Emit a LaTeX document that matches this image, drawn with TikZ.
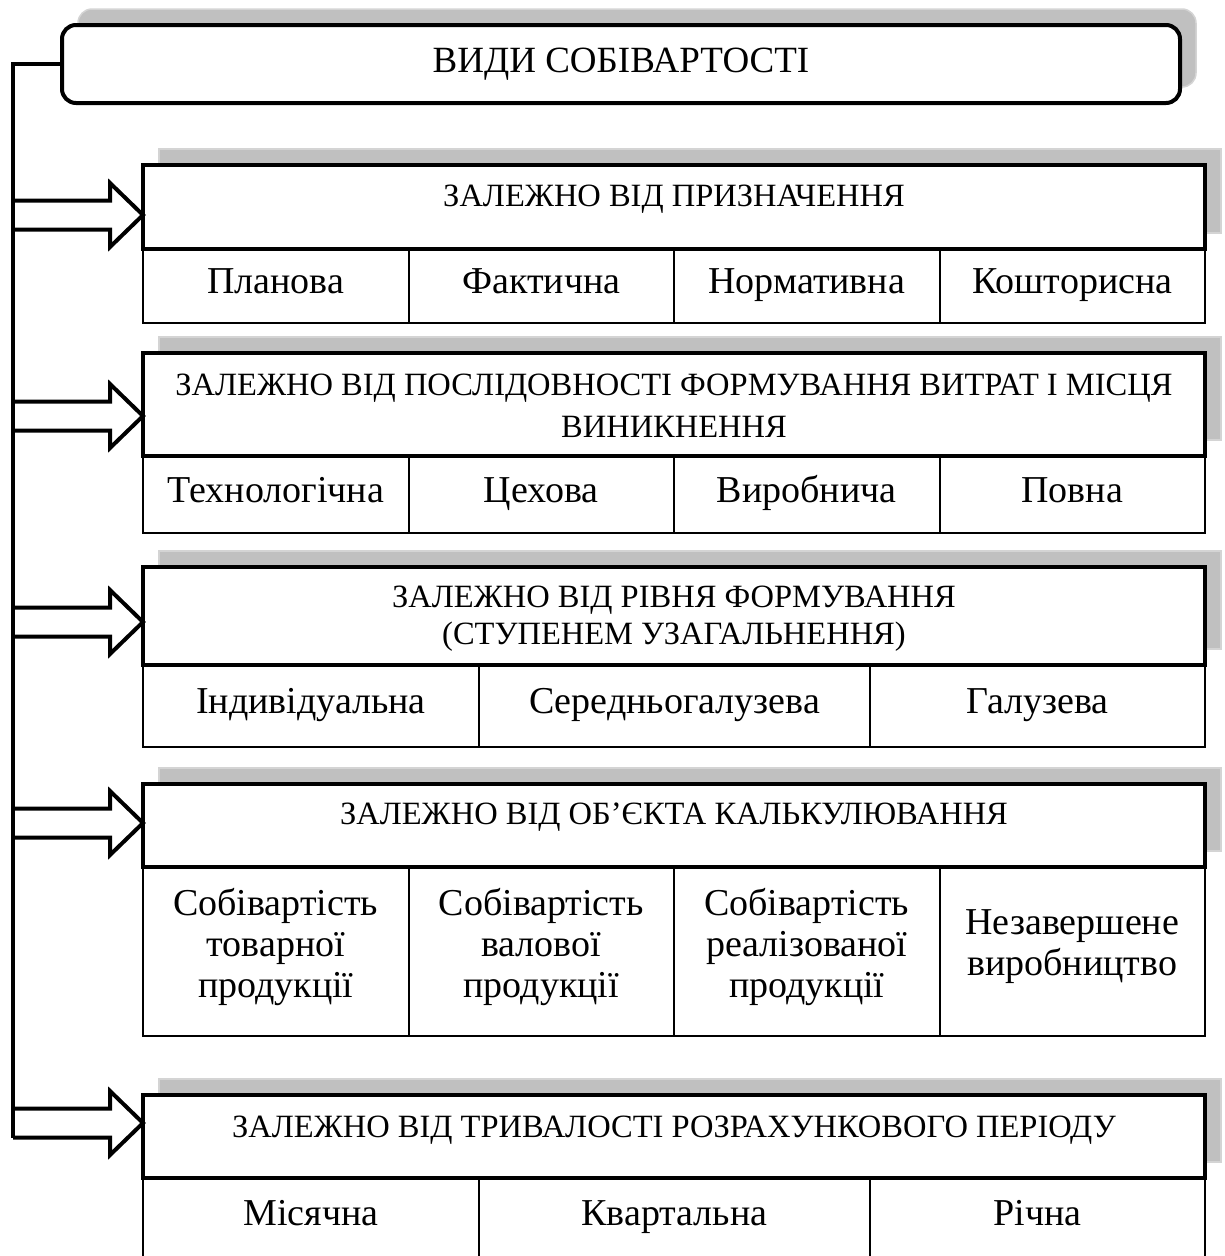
\documentclass[tikz,border=0pt]{standalone}
\usepackage{fontspec}
\setmainfont{Liberation Serif}
\usetikzlibrary{positioning,calc,shadows}

\definecolor{shadowGray}{RGB}{192,192,192}
\definecolor{shadowEdge}{RGB}{212,212,212}

\newcommand{\titleFont}{\fontsize{37}{42}\selectfont}
\newcommand{\headFont}{\fontsize{32.5}{42}\selectfont}
\newcommand{\cellFont}{\fontsize{38}{41}\selectfont}

\tikzset{
    cardShadow/.style = {drop shadow = {shadow xshift = 16pt, shadow yshift = 16pt, fill = shadowGray, draw = shadowEdge, line width = 1.5pt, opacity = 1}},
    headBox/.style    = {draw, line width = 4pt, fill = white, minimum width = 1062pt, inner sep = 0pt, outer sep = 0pt, anchor = north west, cardShadow},
    headText/.style   = {anchor = base, align = center, font = \headFont, inner sep = 0pt},
    cell/.style       = {draw, line width = 2pt, inner sep = 0pt, outer sep = 0pt, anchor = north west, align = center, font = \cellFont},
    oneLine/.style    = {text height = 25pt, text depth = 10pt},
    trunk/.style      = {line width = 4pt},
    blockArrow/.style = {line width = 4pt, line join = miter},
}

\begin{document}
\begin{tikzpicture}[x = 1pt, y = -1pt]

        \useasboundingbox (0, 0) rectangle (1224, 1256);

        \def\wQ{265.5}

        % title box
        \node[draw, line width = 4pt, fill = white, rounded corners = 14pt, minimum width = 1118pt, minimum height = 78pt, inner sep = 0pt, outer sep = 0pt, font = \titleFont, cardShadow] (title) at (621, 64) {ВИДИ СОБІВАРТОСТІ};

        % trunk line down the left side
        \coordinate (trunkEnd) at (13, 1138);
        \draw[trunk] (title.west) -| (trunkEnd);

        % header boxes
        \node[headBox, minimum height =  84pt] (h1) at (143,  165) {};
        \node[headBox, minimum height = 103pt] (h2) at (143,  353) {};
        \node[headBox, minimum height =  98pt] (h3) at (143,  567) {};
        \node[headBox, minimum height =  83pt] (h4) at (143,  784) {};
        \node[headBox, minimum height =  83pt] (h5) at (143, 1095) {};

        % header texts (base = last line)
        \node[headText] (h1t) at ($(h1.north) + (0, 41)$) {ЗАЛЕЖНО ВІД ПРИЗНАЧЕННЯ};
        \node[headText] (h2t) at ($(h2.north) + (0, 84)$) {ЗАЛЕЖНО ВІД ПОСЛІДОВНОСТІ ФОРМУВАННЯ ВИТРАТ І МІСЦЯ\\ВИНИКНЕННЯ};
        \node[headText, font = \fontsize{32.5}{37}\selectfont] (h3t) at ($(h3.north) + (0, 77)$) {ЗАЛЕЖНО ВІД РІВНЯ ФОРМУВАННЯ\\(СТУПЕНЕМ УЗАГАЛЬНЕННЯ)};
        \node[headText] (h4t) at ($(h4.north) + (0, 40)$) {ЗАЛЕЖНО ВІД ОБ’ЄКТА КАЛЬКУЛЮВАННЯ};
        \node[headText] (h5t) at ($(h5.north) + (0, 42)$) {ЗАЛЕЖНО ВІД ТРИВАЛОСТІ РОЗРАХУНКОВОГО ПЕРІОДУ};

        % hollow arrows from the trunk
        \foreach \h/\yc in {h1/215, h2/416, h3/622, h4/823, h5/1123} {
            \coordinate (a\h) at (13, \yc);
            \draw[blockArrow] ($(a\h) + (0, -14.5)$) -- ($(a\h) + (97, -14.5)$) -- ($(a\h) + (97, -32)$) -- (\h.west |- a\h) -- ($(a\h) + (97, 32)$) -- ($(a\h) + (97, 14.5)$) -- ($(a\h) + (0, 14.5)$);
        }

        % cells under each header
        \foreach \lbl [count = \i from 0] in {Планова, Фактична, Нормативна, Кошторисна} {
            \node[cell, oneLine, minimum width = \wQ pt, minimum height = 74pt] (r1c\i) at ({143 + \i*\wQ}, 249) {\lbl};
        }

        \foreach \lbl [count = \i from 0] in {Технологічна, Цехова, Виробнича, Повна} {
            \node[cell, oneLine, minimum width = \wQ pt, minimum height = 77pt] (r2c\i) at ({143 + \i*\wQ}, 456) {\lbl};
        }

        \foreach \x/\w/\lbl [count = \i] in {143/336/Індивідуальна, 479/391/Середньогалузева, 870/335/Галузева} {
            \node[cell, oneLine, minimum width = \w pt, minimum height = 82pt] (r3c\i) at (\x, 665) {\lbl};
        }

        \foreach \lbl [count = \i from 0] in {{Собівартість\\товарної\\продукції}, {Собівартість\\валової\\продукції}, {Собівартість\\реалізованої\\продукції}, {Незавершене\\виробництво}} {
            \node[cell, text depth = 18pt, minimum width = \wQ pt, minimum height = 169pt] (r4c\i) at ({143 + \i*\wQ}, 867) {\lbl};
        }

        \foreach \x/\w/\lbl [count = \i] in {143/336/Місячна, 479/391/Квартальна, 870/335/Річна} {
            \node[cell, oneLine, minimum width = \w pt, minimum height = 80pt] (r5c\i) at (\x, 1178) {\lbl};
        }

\end{tikzpicture}
\end{document}
